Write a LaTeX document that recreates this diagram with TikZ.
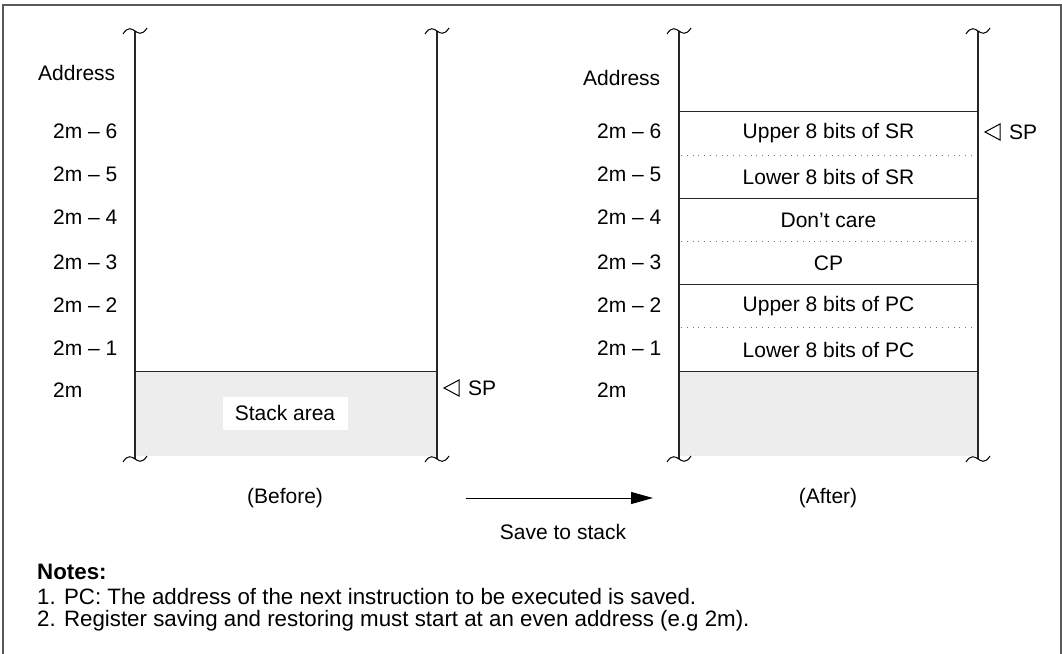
\documentclass[tikz,border=0pt]{standalone}
\usepackage{fontspec}
\setmainfont{Liberation Sans}
\usetikzlibrary{arrows.meta,calc}
\begin{document}
\begin{tikzpicture}[x=1pt,y=-1pt,
  txt/.style={inner sep=0pt,font=\fontsize{21}{25}\selectfont},
  notetxt/.style={inner sep=0pt,font=\fontsize{22.3}{26}\selectfont},
  colline/.style={line width=1.2pt,black!85},
  rowline/.style={line width=1pt,black!85},
  dotline/.style={line width=0.8pt,black!55,dash pattern=on 0.8pt off 5pt},
  stackfill/.style={fill=black!7,draw=none},
  frameline/.style={line width=1.5pt,black!65},
  tri/.style={line width=1pt,black}]
\useasboundingbox (0,0) rectangle (1062,653);
% frame
\draw[frameline] (3,656) -- (3,5) -- (1061,5) -- (1061,656);

% ---------- columns
\fill[stackfill] (135,371) rectangle (437,456);
\fill[stackfill] (679,371) rectangle (978,456);
\foreach \x/\n in {135/la,437/lb,679/ra,978/rb}{
  \coordinate (\n t) at (\x,31);
  \coordinate (\n b) at (\x,459);
  \draw[colline] (\n t) -- (\n b);
  \draw[line width=1pt] ($(\n t)+(-12,3)$) .. controls ($(\n t)+(-7,-5)$) and ($(\n t)+(-3,-2)$) .. (\n t)
     .. controls ($(\n t)+(3,2)$) and ($(\n t)+(7,5)$) .. ($(\n t)+(12,-3)$);
  \draw[line width=1pt] ($(\n b)+(-12,3)$) .. controls ($(\n b)+(-7,-5)$) and ($(\n b)+(-3,-2)$) .. (\n b)
     .. controls ($(\n b)+(3,2)$) and ($(\n b)+(7,5)$) .. ($(\n b)+(12,-3)$);
}
\draw[rowline] (135,371) -- (437,371);
\node[txt,fill=white,minimum width=125pt,minimum height=33pt] (stack) at (285,413) {Stack area};

% address labels
\node[txt,anchor=west] (addrL) at (38,73) {Address};
\node[txt,anchor=west] (addrR) at (583,78) {Address};
\foreach \y/\t/\n in {131/2m -- 6/6,174/2m -- 5/5,217/2m -- 4/4,262/2m -- 3/3,305/2m -- 2/2,348/2m -- 1/1,390/2m/0}{
  \node[txt,anchor=west] (aL\n) at (53,\y) {\t};
  \node[txt,anchor=west] (aR\n) at (597,\y) {\t};
}

% SP left
\coordinate (spL) at (444,388);
\draw[tri] (spL) -- ++(15,-8) -- ++(0,16) -- cycle;
\node[txt,anchor=west] (spLt) at (468,388) {SP};

% ---------- right column rows
\foreach \y in {111,198,284,371}{\draw[rowline] (679,\y) -- (978,\y);}
\foreach \y in {155,241,327}{\draw[dotline] (681,\y) -- (976,\y);}
\node[txt] (r6) at (828.5,133) {Upper 8 bits of SR};
\node[txt] (r5) at (828.5,177) {Lower 8 bits of SR};
\node[txt] (r4) at (828.5,220) {Don’t care};
\node[txt] (r3) at (828.5,263) {CP};
\node[txt] (r2) at (828.5,306) {Upper 8 bits of PC};
\node[txt] (r1) at (828.5,350) {Lower 8 bits of PC};

% SP right
\coordinate (spR) at (985,132);
\draw[tri] (spR) -- ++(15,-8) -- ++(0,16) -- cycle;
\node[txt,anchor=west] (spRt) at (1009,132) {SP};

% captions and arrow
\node[txt] (before) at (285,498) {(Before)};
\node[txt] (after) at (828,498) {(After)};
\coordinate (arrS) at (466,498);
\coordinate (arrE) at (653,498);
\draw[line width=1pt,-{Triangle[length=22pt,width=12pt]}] (arrS) -- (arrE);
\node[txt] (save) at (563,532) {Save to stack};

% notes
\node[notetxt,anchor=west,font=\fontsize{22.3}{26}\selectfont\bfseries] (notes) at (37,572) {Notes:};
\node[notetxt,anchor=west] (n1) at (37,597) {1. PC: The address of the next instruction to be executed is saved.};
\node[notetxt,anchor=west] (n2) at (37,621) {2. Register saving and restoring must start at an even address (e.g 2m).};
\end{tikzpicture}
\end{document}
